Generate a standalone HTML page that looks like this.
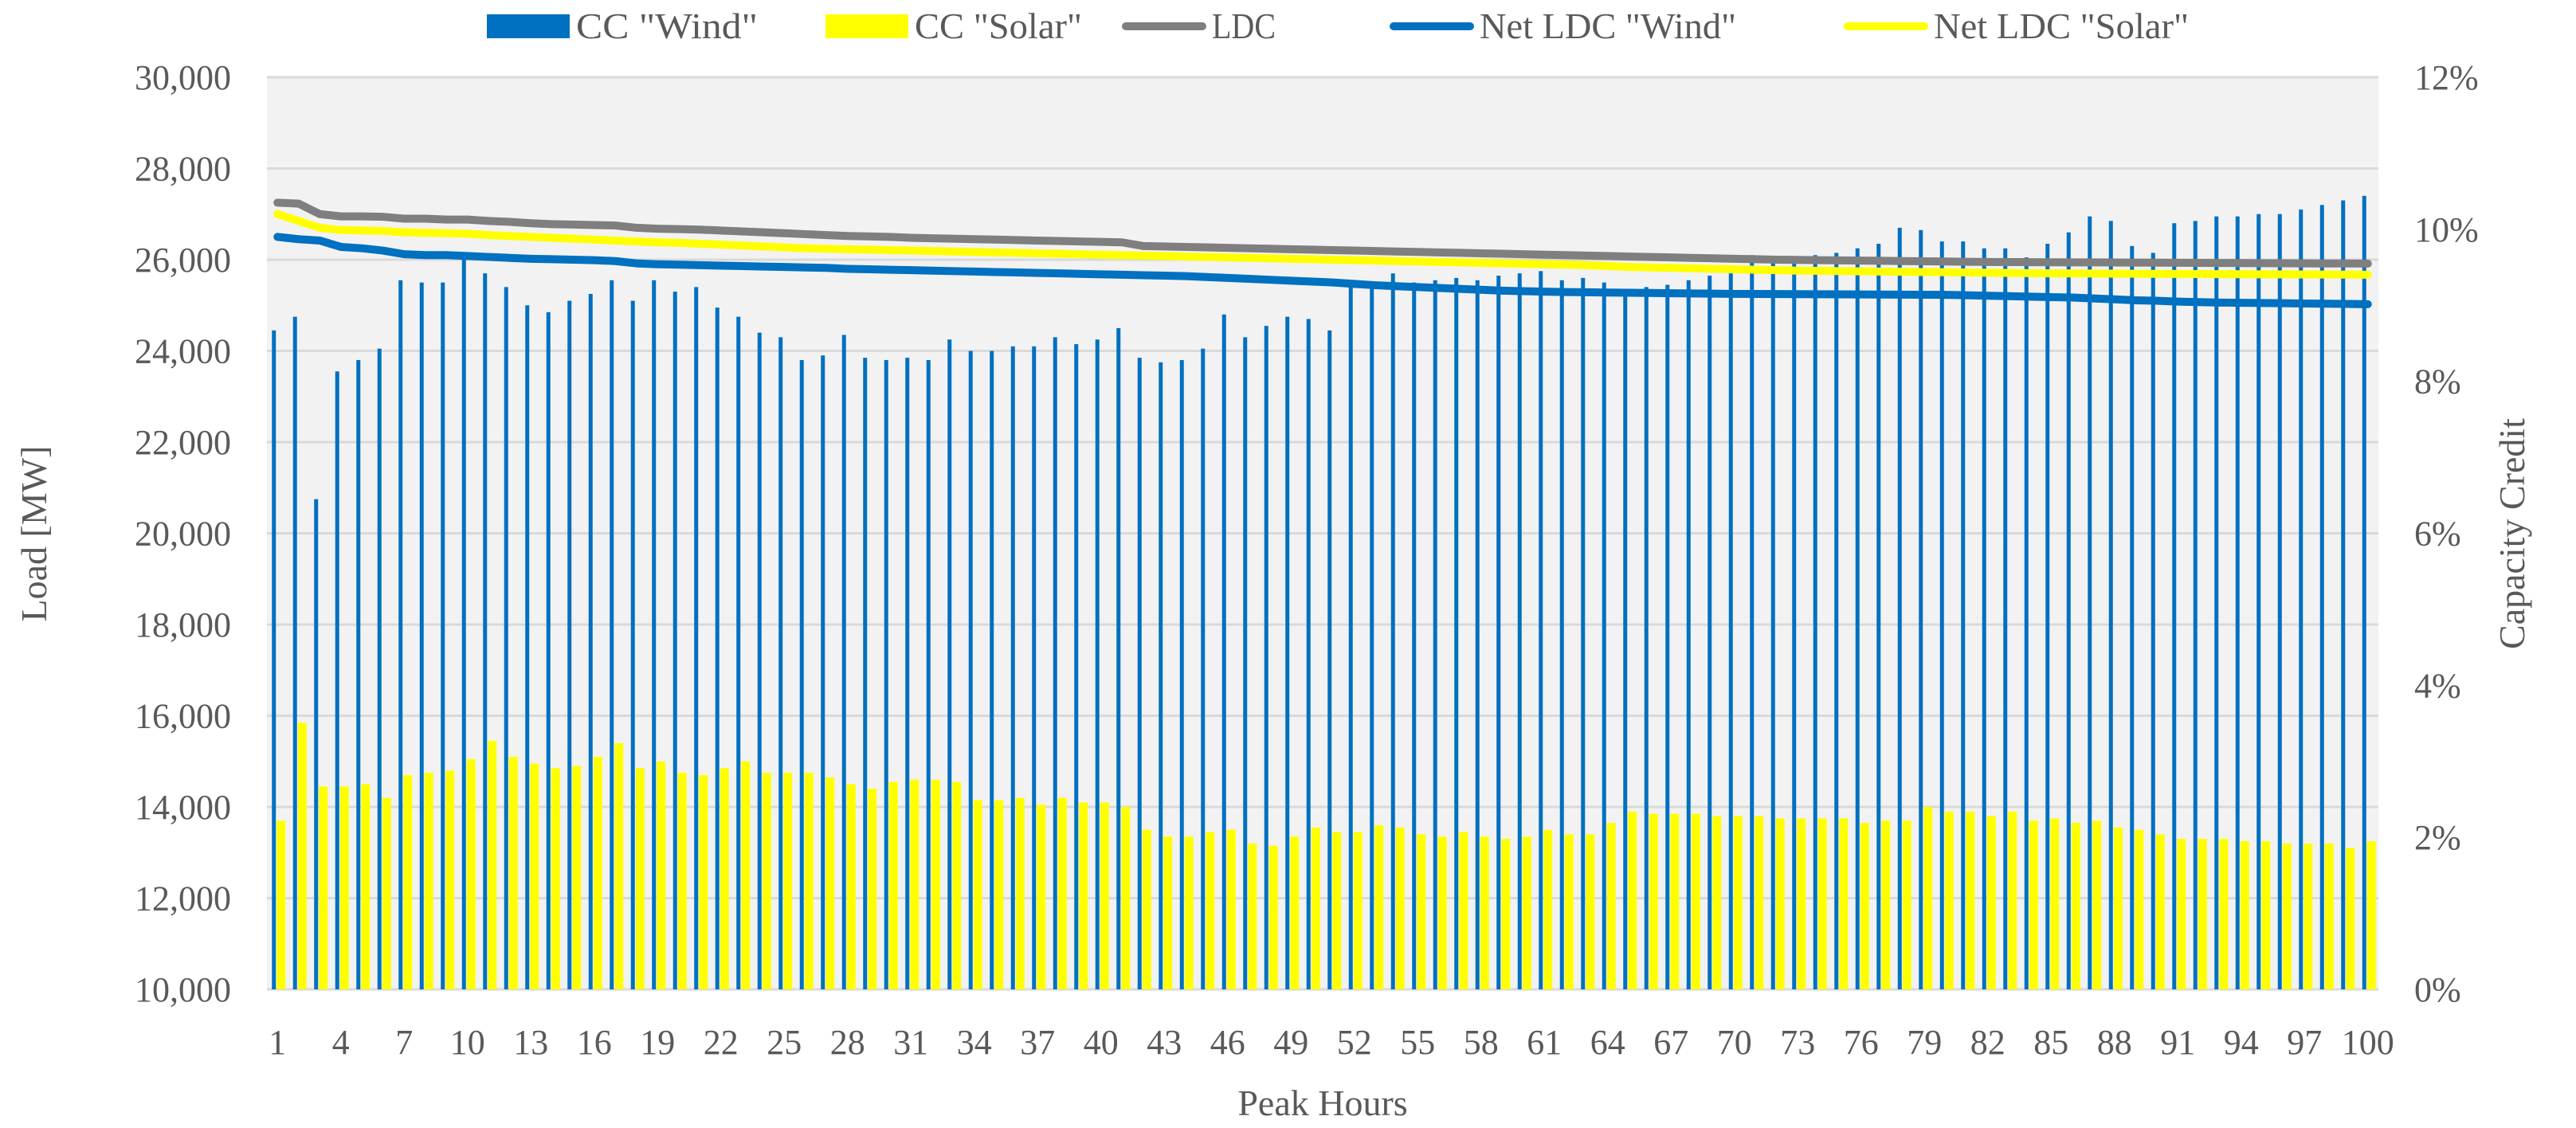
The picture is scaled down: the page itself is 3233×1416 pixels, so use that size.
<!DOCTYPE html>
<html><head><meta charset="utf-8"><style>
html,body{margin:0;padding:0;background:#fff;}
svg text{font-family:"Liberation Serif",serif;fill:#595959;}
</style></head><body>
<svg id="chart" width="3233" height="1411" xmlns="http://www.w3.org/2000/svg"></svg>
<script>
const hours = Array.from({length:100},(_,i)=>i+1);
const ccWind = [8.67,8.85,6.45,8.13,8.28,8.43,9.33,9.30,9.30,9.60,9.42,9.24,9.00,8.91,9.06,9.15,9.33,9.06,9.33,9.18,9.24,8.97,8.85,8.64,8.58,8.28,8.34,8.61,8.31,8.28,8.31,8.28,8.55,8.40,8.40,8.46,8.46,8.58,8.49,8.55,8.70,8.31,8.25,8.28,8.43,8.88,8.58,8.73,8.85,8.82,8.67,9.24,9.30,9.42,9.30,9.33,9.36,9.33,9.39,9.42,9.45,9.33,9.36,9.30,9.21,9.24,9.27,9.33,9.39,9.42,9.66,9.60,9.63,9.66,9.69,9.75,9.81,10.02,9.99,9.84,9.84,9.75,9.75,9.63,9.81,9.96,10.17,10.11,9.78,9.69,10.08,10.11,10.17,10.17,10.20,10.20,10.26,10.32,10.38,10.44];
const ccSolar = [2.22,3.51,2.67,2.67,2.70,2.52,2.82,2.85,2.88,3.03,3.27,3.06,2.97,2.91,2.94,3.06,3.24,2.91,3.00,2.85,2.82,2.91,3.00,2.85,2.85,2.85,2.79,2.70,2.64,2.73,2.76,2.76,2.73,2.49,2.49,2.52,2.43,2.52,2.46,2.46,2.40,2.10,2.01,2.01,2.07,2.10,1.92,1.89,2.01,2.13,2.07,2.07,2.16,2.13,2.04,2.01,2.07,2.01,1.98,2.01,2.10,2.04,2.04,2.19,2.34,2.31,2.31,2.31,2.28,2.28,2.28,2.25,2.25,2.25,2.25,2.19,2.22,2.22,2.40,2.34,2.34,2.28,2.34,2.22,2.25,2.19,2.22,2.13,2.10,2.04,1.98,1.98,1.98,1.95,1.95,1.92,1.92,1.92,1.86,1.95];
const ldc = [27250,27230,27000,26950,26950,26940,26900,26900,26880,26880,26850,26830,26800,26780,26770,26760,26750,26700,26680,26670,26660,26640,26620,26600,26580,26560,26540,26520,26510,26500,26480,26470,26460,26450,26440,26430,26420,26410,26400,26390,26380,26300,26290,26280,26270,26260,26250,26240,26230,26220,26210,26200,26190,26180,26170,26160,26150,26140,26130,26120,26110,26100,26090,26080,26070,26060,26050,26040,26030,26020,26010,26000,25995,25990,25985,25980,25975,25970,25965,25960,25955,25950,25948,25946,25944,25942,25940,25938,25936,25934,25932,25930,25928,25926,25924,25922,25920,25918,25916,25914];
const netSolar = [27000,26850,26700,26650,26640,26630,26600,26590,26580,26570,26540,26520,26500,26480,26460,26440,26420,26400,26380,26370,26350,26330,26310,26290,26270,26250,26240,26230,26220,26210,26200,26190,26180,26170,26160,26150,26140,26130,26120,26110,26100,26090,26080,26070,26060,26050,26040,26030,26020,26010,26000,25990,25980,25970,25960,25950,25940,25930,25920,25910,25900,25890,25880,25860,25840,25830,25820,25810,25800,25790,25780,25770,25760,25755,25750,25745,25740,25735,25730,25725,25720,25715,25710,25705,25700,25698,25696,25694,25692,25690,25688,25686,25684,25682,25680,25678,25676,25674,25672,25670];
const netWind = [26500,26450,26420,26280,26250,26200,26120,26100,26100,26080,26060,26040,26020,26010,26000,25990,25970,25920,25900,25890,25880,25870,25860,25850,25840,25830,25820,25800,25790,25780,25770,25760,25750,25740,25730,25720,25710,25700,25690,25680,25670,25660,25650,25640,25620,25600,25580,25560,25540,25520,25500,25470,25440,25420,25400,25380,25360,25340,25320,25310,25300,25290,25285,25280,25275,25270,25265,25260,25255,25250,25248,25246,25244,25242,25240,25238,25236,25234,25232,25230,25220,25210,25200,25190,25180,25170,25150,25130,25110,25100,25080,25070,25060,25055,25050,25045,25040,25035,25030,25025];
const leftTicks = [10000,12000,14000,16000,18000,20000,22000,24000,26000,28000,30000];
const rightTicks = [0,2,4,6,8,10,12];

const svg = document.getElementById('chart');
const NS = 'http://www.w3.org/2000/svg';
const X0=335, X1=2985, Y0=97, Y1=1242;
const cw=(X1-X0)/hours.length;
const yL = v => Y1-(v-10000)/20000*(Y1-Y0);
const yR = v => Y1-v/12*(Y1-Y0);
const xC = i => X0+(i+0.5)*cw;
function mk(tag, attrs, parent){const e=document.createElementNS(NS,tag);for(const k in attrs)e.setAttribute(k,attrs[k]);(parent||svg).appendChild(e);return e;}

const bg = mk('rect',{x:X0,y:Y0,width:X1-X0,height:Y1-Y0,fill:'#f2f2f2'});



leftTicks.forEach(t=>{
  const g = mk('line',{x1:X0,x2:X1,y1:yL(t),y2:yL(t),stroke:'#d9d9d9','stroke-width':3});
  
  
  const tx = mk('text',{x:290,y:yL(t)+15,'text-anchor':'end','font-size':44});
  tx.textContent = t.toLocaleString('en-US');
  
  
});
rightTicks.forEach(t=>{
  const tx = mk('text',{x:3030,y:yR(t)+15,'text-anchor':'start','font-size':44});
  tx.textContent = t+'%';
  
  
});

hours.forEach((h,i)=>{
  const c = xC(i);
  const bw = mk('rect',{x:c-7,y:yR(ccWind[i]),width:5,height:Y1-yR(ccWind[i]),fill:'#0070c0'});
  
  
  const bs = mk('rect',{x:c-1,y:yR(ccSolar[i]),width:11,height:Y1-yR(ccSolar[i]),fill:'#ffff00'});
  
  
  if(i%3===0){
    const tx = mk('text',{x:c,y:1323,'text-anchor':'middle','font-size':44});
    tx.textContent = h;
    
    
  }
});

function line(arr,color,name){
  const p = mk('polyline',{points:arr.map((v,i)=>xC(i)+','+yL(v)).join(' '),fill:'none',stroke:color,'stroke-width':10,'stroke-linejoin':'round','stroke-linecap':'round'});
  
  
}
line(ldc,'#7f7f7f','ldc-line');
line(netSolar,'#ffff00','net-ldc-solar-line');
line(netWind,'#0070c0','net-ldc-wind-line');

const yt = mk('text',{x:0,y:0,'text-anchor':'middle','font-size':46,transform:'translate(58,670) rotate(-90)'});
yt.textContent='Load [MW]';


const yt2 = mk('text',{x:0,y:0,'text-anchor':'middle','font-size':46,transform:'translate(3168,670) rotate(-90)'});
yt2.textContent='Capacity Credit';


const xt = mk('text',{x:1660,y:1400,'text-anchor':'middle','font-size':46});
xt.textContent='Peak Hours';



const legendItems = [
  {label:'CC "Wind"',color:'#0070c0',type:'box',x:611,tw:228},
  {label:'CC "Solar"',color:'#ffff00',type:'box',x:1036,tw:210},
  {label:'LDC',color:'#7f7f7f',type:'line',x:1409,tw:80},
  {label:'Net LDC "Wind"',color:'#0070c0',type:'line',x:1745,tw:322},
  {label:'Net LDC "Solar"',color:'#ffff00',type:'line',x:2315,tw:320}
];
legendItems.forEach(it=>{
  const g = mk('g',{});
  
  
  if(it.type==='box') mk('rect',{x:it.x,y:18,width:104,height:30,fill:it.color},g);
  else mk('line',{x1:it.x+4,x2:it.x+100,y1:33,y2:33,stroke:it.color,'stroke-width':10,'stroke-linecap':'round'},g);
  const t = mk('text',{x:it.x+112,y:48,'font-size':46,textLength:it.tw,lengthAdjust:'spacingAndGlyphs'},g);
  t.textContent = it.label;
});
</script>
</body></html>
